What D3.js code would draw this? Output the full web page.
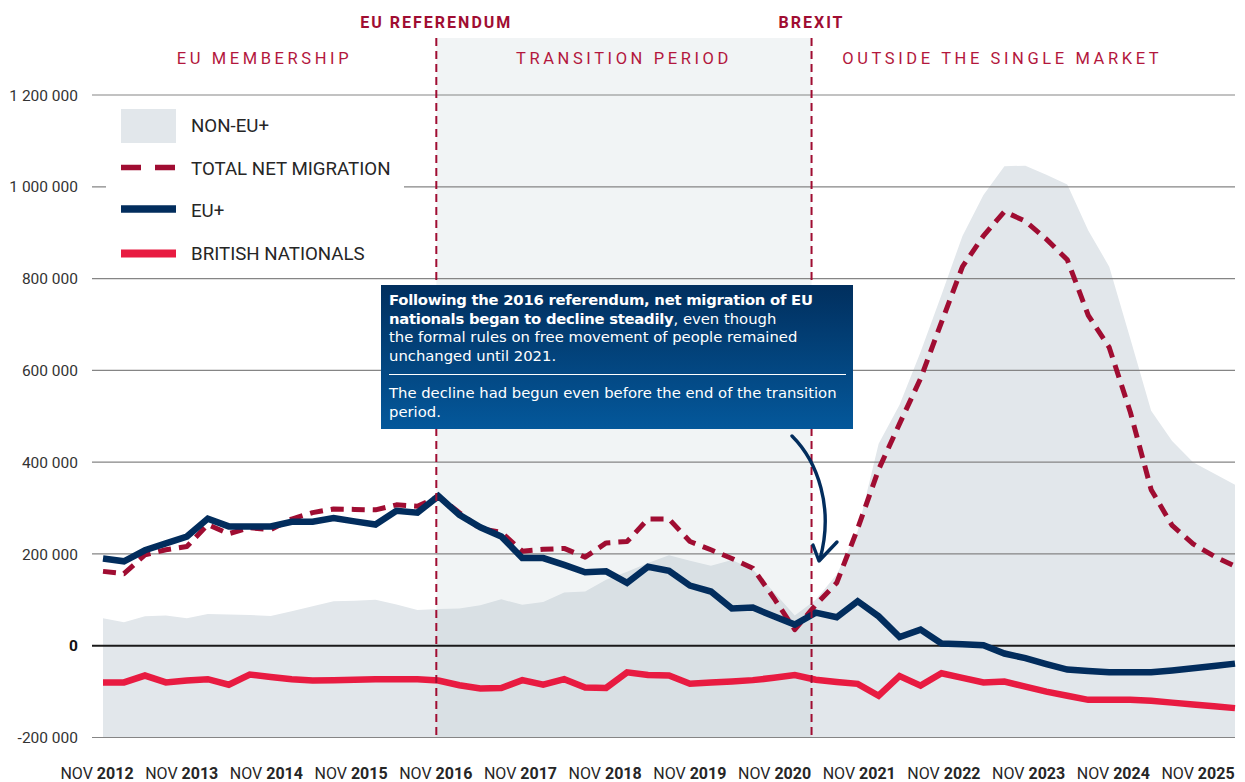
<!DOCTYPE html>
<html><head><meta charset="utf-8">
<script src="https://cdn.jsdelivr.net/npm/d3@7"></script>
<style>
html,body{margin:0;padding:0;background:#fff;}
svg{display:block;font-family:Roboto,"Noto Sans",sans-serif;}
</style></head>
<body><svg id="chart" width="1245" height="782"></svg>
<script>
// ---- DATA (thousands, year ending each quarter) ----
const periods = ["2012-06","2012-09","2012-12","2013-03","2013-06","2013-09","2013-12","2014-03","2014-06","2014-09","2014-12","2015-03","2015-06","2015-09","2015-12","2016-03","2016-06","2016-09","2016-12","2017-03","2017-06","2017-09","2017-12","2018-03","2018-06","2018-09","2018-12","2019-03","2019-06","2019-09","2019-12","2020-03","2020-06","2020-09","2020-12","2021-03","2021-06","2021-09","2021-12","2022-03","2022-06","2022-09","2022-12","2023-03","2023-06","2023-09","2023-12","2024-03","2024-06","2024-09","2024-12","2025-03","2025-06","2025-09","2025-12"];
const nonEU = [60,51,64,66,60,69,68,67,65,75,86,97,98,100,90,78,80,81,88,101,89,95,116,118,144,161,180,197,185,174,187,166,117,66,100,155,250,440,525,640,765,893,982,1045,1046,1026,1005,905,826,670,512,446,400,375,351];
const totalNet = [162,157,198,209,216,264,244,257,253,276,290,298,297,296,307,304,325,290,255,247,206,210,212,193,224,227,276,276,227,209,190,169,104,35,89,137,255,384,484,582,705,826,893,946,925,886,841,720,650,510,340,262,222,195,173];
const euPlus = [190,184,208,223,238,277,260,260,260,270,270,278,271,264,294,290,326,285,258,238,191,191,176,160,162,137,172,163,131,118,81,83,64,46,72,62,97,64,19,35,5,3,1,-17,-27,-40,-52,-55,-58,-58,-58,-54,-49,-44,-39];
const british = [-80,-80,-65,-80,-76,-73,-85,-63,-68,-73,-76,-75,-74,-73,-73,-73,-76,-86,-93,-92,-75,-85,-73,-91,-92,-58,-64,-65,-83,-80,-78,-75,-70,-64,-74,-79,-83,-109,-66,-87,-60,-70,-80,-78,-89,-100,-109,-118,-118,-118,-120,-124,-128,-132,-136];

const yTicks = [-200,0,200,400,600,800,1000,1200];
const yTickLabels = ["-200 000","0","200 000","400 000","600 000","800 000","1 000 000","1 200 000"];
const years = ["2012","2013","2014","2015","2016","2017","2018","2019","2020","2021","2022","2023","2024","2025"];
const eventLabels = ["EU REFERENDUM","BREXIT"];
const eventAt = [15.9, 33.8];           // position in quarter index
const sectionLabels = ["EU MEMBERSHIP","TRANSITION PERIOD","OUTSIDE THE SINGLE MARKET"];
const sectionAt = [7.7, 24.85, 42.9];
const legendLabels = ["NON-EU+","TOTAL NET MIGRATION","EU+","BRITISH NATIONALS"];

// ---- STYLE ----
const C = {navy:"#022d5d", red:"#e81b41", crimson:"#a00d32", area:"#e2e7eb", grid:"#858585", text:"#262626"};

const svg = d3.select("#chart");
const idx = periods.map((d,i)=>i);
const x = d3.scaleLinear().domain([0, periods.length-1]).range([103, 1235]);
const y = d3.scaleLinear().domain([-200, 1200]).range([737.5, 95]);
const xYear = d3.scalePoint().domain(years).range([97, 1198]);
const plotLeft = 92, plotRight = 1235, plotTop = 38;

// area (non-EU+) from bottom of plot
svg.append("path")
  .attr("fill", C.area)
  .attr("d", d3.area().x(i=>x(i)).y0(y(-200)).y1(i=>y(nonEU[i]))(idx));

// transition period overlay
svg.append("rect")
  .attr("x", x(eventAt[0])).attr("y", plotTop)
  .attr("width", x(eventAt[1]) - x(eventAt[0]))
  .attr("height", y(-200) - plotTop)
  .attr("fill", "rgb(172,188,198)").attr("fill-opacity", 0.17);

// gridlines
svg.append("g").selectAll("line").data(yTicks).join("line")
  .attr("x1", plotLeft).attr("x2", plotRight)
  .attr("y1", d=>y(d)).attr("y2", d=>y(d))
  .attr("stroke", d=> d===0 ? "#1a1a1a" : C.grid)
  .attr("stroke-width", d=> d===0 ? 2 : 1.2);

// y labels
svg.append("g").selectAll("text").data(yTicks).join("text")
  .attr("x", 78).attr("y", d=>y(d)).attr("dy","0.36em")
  .attr("text-anchor","end")
  .attr("font-size", 15.5)
  .attr("font-weight", d=> d===0 ? 700 : 400)
  .attr("fill", d=> d===0 ? "#111" : "#333")
  .text((d,i)=>yTickLabels[i]);

// lines
const line = arr => d3.line().x(i=>x(i)).y(i=>y(arr[i]))(idx);
svg.append("path").attr("d", line(totalNet)).attr("fill","none")
  .attr("stroke", C.crimson).attr("stroke-width", 5)
  .attr("stroke-dasharray","13,8").attr("stroke-linejoin","round");
svg.append("path").attr("d", line(british)).attr("fill","none")
  .attr("stroke", C.red).attr("stroke-width", 6.5).attr("stroke-linejoin","miter");
svg.append("path").attr("d", line(euPlus)).attr("fill","none")
  .attr("stroke", C.navy).attr("stroke-width", 6.5).attr("stroke-linejoin","miter");

// event lines
svg.append("g").selectAll("line").data(eventAt).join("line")
  .attr("x1", d=>x(d)).attr("x2", d=>x(d))
  .attr("y1", plotTop).attr("y2", y(-200))
  .attr("stroke", C.crimson).attr("stroke-width", 2)
  .attr("stroke-dasharray","8,5");
svg.append("g").selectAll("text").data(eventAt).join("text")
  .attr("x", d=>x(d)).attr("y", 27.5).attr("text-anchor","middle")
  .attr("font-size", 16).attr("font-weight", 700).attr("letter-spacing", "2")
  .attr("fill", C.crimson)
  .text((d,i)=>eventLabels[i]);

// section labels
svg.append("g").selectAll("text").data(sectionAt).join("text")
  .attr("x", d=>x(d)).attr("y", 64).attr("text-anchor","middle")
  .attr("font-size", 16.5).attr("letter-spacing", "3.6")
  .attr("fill", "#b3173d")
  .text((d,i)=>sectionLabels[i]);

// x labels
const xl = svg.append("g").selectAll("text").data(years).join("text")
  .attr("x", d=>xYear(d)).attr("y", 779).attr("text-anchor","middle")
  .attr("font-size", 16).attr("fill", C.text);
xl.append("tspan").text("NOV ").attr("font-weight",400);
xl.append("tspan").text(d=>d).attr("font-weight",700);

// legend
const lg = svg.append("g");
lg.append("rect").attr("x",106).attr("y",100).attr("width",298).attr("height",170).attr("fill","#fff");
lg.append("rect").attr("x",121).attr("y",109).attr("width",55).attr("height",34).attr("fill",C.area);
lg.append("line").attr("x1",121).attr("x2",176).attr("y1",167.5).attr("y2",167.5)
  .attr("stroke",C.crimson).attr("stroke-width",5.5).attr("stroke-dasharray","20,14");
lg.append("line").attr("x1",121).attr("x2",176).attr("y1",209).attr("y2",209)
  .attr("stroke",C.navy).attr("stroke-width",7.5);
lg.append("line").attr("x1",121).attr("x2",176).attr("y1",253.5).attr("y2",253.5)
  .attr("stroke",C.red).attr("stroke-width",8);
lg.selectAll("text").data(legendLabels).join("text")
  .attr("x",191).attr("y",(d,i)=>131.7 + i*42.8)
  .attr("font-size",18.7).attr("fill",C.text)
  .text(d=>d);

// annotation box
const defs = svg.append("defs");
const grad = defs.append("linearGradient").attr("id","boxg").attr("x1",0).attr("x2",0).attr("y1",0).attr("y2",1);
grad.append("stop").attr("offset","0%").attr("stop-color","#012f5e");
grad.append("stop").attr("offset","100%").attr("stop-color","#04589b");
svg.append("rect").attr("x",381).attr("y",285).attr("width",472).attr("height",144).attr("fill","url(#boxg)");
const tf = "'DejaVu Sans',sans-serif";
const noteLines = [
  {y:305, parts:[["Following the 2016 referendum, net migration of EU",700]]},
  {y:323.7, parts:[["nationals began to decline steadily",700],[", even though",400]]},
  {y:342.4, parts:[["the formal rules on free movement of people remained",400]]},
  {y:361, parts:[["unchanged until 2021.",400]]},
  {y:398.3, parts:[["The decline had begun even before the end of the transition",400]]},
  {y:417, parts:[["period.",400]]}
];
const nt = svg.append("g").attr("font-family",tf).attr("font-size",14.8).attr("fill","#fff");
noteLines.forEach(l=>{
  const t = nt.append("text").attr("x",389).attr("y",l.y);
  l.parts.forEach(p=>t.append("tspan").attr("font-weight",p[1]).attr("letter-spacing", p[1]===700 ? "-0.25" : "0").text(p[0]));
});
svg.append("line").attr("x1",389).attr("x2",846).attr("y1",374.5).attr("y2",374.5).attr("stroke","#fff").attr("stroke-width",1.2);

// arrow
svg.append("path").attr("d","M792,436 C818,462 834,508 820,559")
  .attr("fill","none").attr("stroke",C.navy).attr("stroke-width",3.4).attr("stroke-linecap","round");
svg.append("path").attr("d","M813,545 L819,561 L837,542")
  .attr("fill","none").attr("stroke",C.navy).attr("stroke-width",3.4).attr("stroke-linecap","round").attr("stroke-linejoin","round");
</script>
</body></html>
